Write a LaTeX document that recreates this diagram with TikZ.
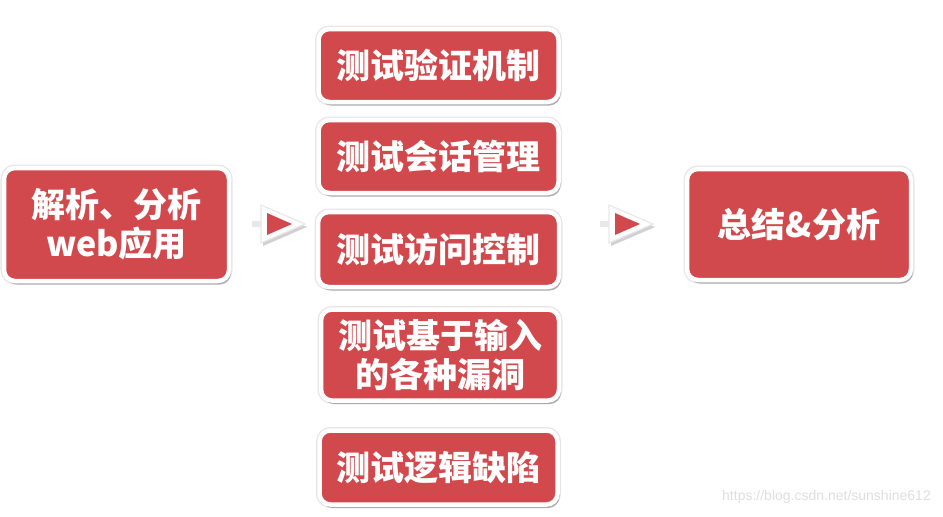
\documentclass[tikz,border=0pt]{standalone}
\usepackage{fontspec}
\newfontfamily\cjk{Noto Sans CJK SC}
\newfontfamily\wm{Liberation Sans}
\usetikzlibrary{shadows}
\definecolor{boxred}{RGB}{209,73,76}
\definecolor{wmgray}{RGB}{222,222,222}
\tikzset{
  redbox/.style={draw=white, line width=4.5pt, fill=boxred, rounded corners=11pt,
    inner sep=0pt, text=white, align=center,
    font=\cjk\bfseries\fontsize{34}{39}\selectfont,
    preaction={draw=black!10, line width=7pt},
    drop shadow={shadow xshift=2pt, shadow yshift=-3.5pt, opacity=0.25, fill=black}},
  stub/.style={draw=black!9, line width=6.5pt},
  whitetri/.style={fill=white, draw=black!9, line width=1.2pt, line join=round,
    drop shadow={shadow xshift=2pt, shadow yshift=-3pt, opacity=0.18, fill=black}},
  redtri/.style={fill=boxred},
}
\begin{document}
\begin{tikzpicture}[x=1pt, y=-1pt]
\useasboundingbox (0,0) rectangle (943,517);
% left
\node[redbox, minimum width=225pt, minimum height=113pt] (parse) at (116.5,224.5) {解析、分析\\web应用};
% middle
\node[redbox, minimum width=240pt, minimum height=73pt] (auth) at (438.5,65.5) {测试验证机制};
\node[redbox, minimum width=240pt, minimum height=73pt] (sess) at (438.5,156.5) {测试会话管理};
\node[redbox, minimum width=241pt, minimum height=75pt] (acc) at (438.5,249.5) {测试访问控制};
\node[redbox, minimum width=238pt, minimum height=91pt] (inp) at (440,355) {测试基于输入\\的各种漏洞};
\node[redbox, minimum width=238pt, minimum height=74pt] (logic) at (438.5,467.5) {测试逻辑缺陷};
% right
\node[redbox, minimum width=224pt, minimum height=111pt] (summ) at (799,224.5) {总结\&分析};
% arrows
\coordinate (a1s) at (252,224);
\coordinate (a1b) at (263,224);
\draw[stub] (a1s) -- (a1b);
\draw[whitetri] (261,205) -- (305,224) -- (261,243) -- cycle;
\fill[redtri] (267,213) -- (292,224) -- (267,235) -- cycle;
\coordinate (a2s) at (600,224);
\coordinate (a2b) at (611,224);
\draw[stub] (a2s) -- (a2b);
\draw[whitetri] (609,205) -- (653,224) -- (609,243) -- cycle;
\fill[redtri] (615,213) -- (640,224) -- (615,235) -- cycle;
% watermark
\node[text=wmgray, font=\wm\fontsize{14}{16}\selectfont, anchor=east, inner sep=0pt] (wmark) at (931,497) {https://blog.csdn.net/sunshine612};
\end{tikzpicture}
\end{document}
